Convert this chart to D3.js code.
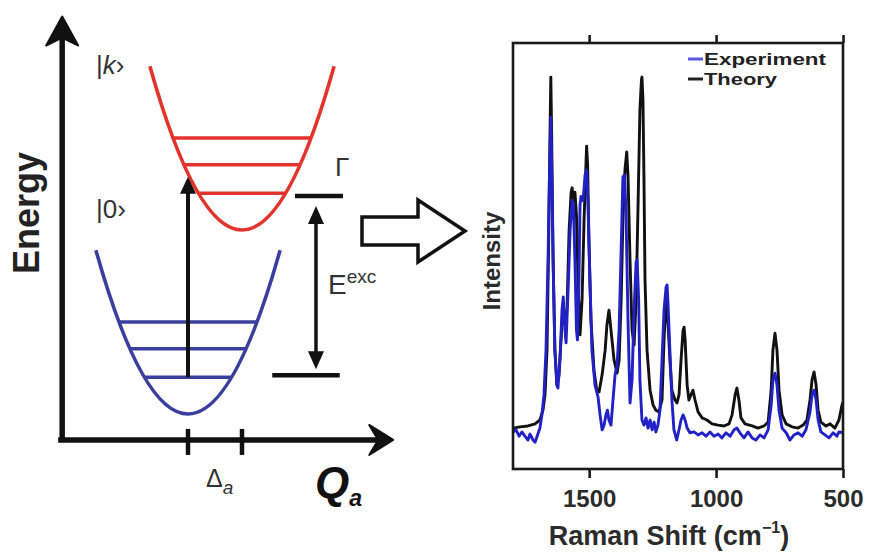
<!DOCTYPE html>
<html>
<head>
<meta charset="utf-8">
<script src="https://cdn.jsdelivr.net/npm/d3@7"></script>
<style>
  body { margin: 0; background: #fff; }
  svg { display: block; }
  text { font-family: "Liberation Sans", Arial, Helvetica, sans-serif; }
</style>
</head>
<body>
<svg id="fig" width="869" height="553"></svg>
<script>
// ---------- Raman spectra: [Raman shift (cm^-1), intensity (a.u.)] ----------
const theory = [
  [1800,9.6],[1772,9.9],[1741,10.1],[1713,10.6],[1694,11.5],[1682,13.8],[1674,17.4],[1666,27.9],
  [1660,51.4],[1654,79.6],[1651,92.0],[1648,79.6],[1642,49.1],[1635,27.9],[1627,19.7],[1619,22.0],
  [1611,30.0],[1603,38.0],[1595,34.0],[1587,38.0],[1579,56.0],[1571,65.0],[1567,66.0],[1562,63.1],
  [1556,65.0],[1550,59.6],[1544,44.4],[1536,31.5],[1528,39.7],[1520,58.5],[1512,72.5],[1510,75.8],
  [1506,71.4],[1501,53.8],[1493,35.0],[1481,23.2],[1469,18.1],[1461,18.1],[1449,22.1],[1437,27.9],
  [1430,33.8],[1422,37.3],[1414,32.6],[1402,25.6],[1390,22.5],[1382,25.6],[1374,39.7],[1367,58.5],
  [1359,70.2],[1352,74.4],[1347,69.0],[1339,49.1],[1331,32.6],[1323,29.1],[1315,39.7],[1307,63.1],
  [1300,84.3],[1294,91.3],[1292,92.0],[1288,86.6],[1284,67.8],[1280,44.4],[1272,27.9],[1260,18.5],
  [1248,15.0],[1237,13.8],[1225,13.4],[1213,16.2],[1205,30.3],[1197,39.7],[1190,35.0],[1182,25.6],
  [1174,18.5],[1162,16.2],[1154,15.5],[1146,17.4],[1138,25.6],[1130,32.6],[1126,33.3],[1122,30.3],
  [1114,19.7],[1107,16.2],[1099,17.4],[1091,18.5],[1083,16.2],[1071,13.4],[1055,12.0],[1036,11.5],
  [1016,10.6],[992,10.3],[969,10.1],[949,10.6],[937,12.7],[925,17.4],[918,19.0],[910,16.2],
  [902,12.0],[886,10.6],[858,10.1],[835,9.6],[811,10.1],[795,11.0],[783,18.5],[776,27.9],
  [768,31.9],[760,27.9],[752,18.5],[740,12.7],[724,10.6],[701,9.9],[677,9.6],[657,10.3],
  [642,11.5],[630,16.2],[622,20.9],[614,22.8],[606,19.7],[598,13.8],[587,11.0],[567,10.1],
  [551,10.6],[532,9.6],[516,11.5],[504,15.0],[500,15.7]
];

const experiment = [
  [1800,8.7],[1788,9.2],[1776,7.7],[1765,8.7],[1753,7.7],[1741,6.8],[1733,8.2],[1721,6.8],
  [1713,6.3],[1705,7.7],[1694,9.6],[1686,12.7],[1678,17.4],[1670,27.9],[1662,49.1],[1656,70.2],
  [1651,82.6],[1648,72.5],[1642,49.1],[1635,27.9],[1627,19.7],[1623,19.0],[1615,25.6],[1607,37.3],
  [1602,40.4],[1595,32.6],[1591,29.6],[1583,42.0],[1575,56.1],[1567,63.1],[1562,62.0],[1556,49.1],
  [1550,32.6],[1546,30.3],[1540,45.0],[1536,62.0],[1532,64.0],[1524,63.0],[1516,69.0],[1510,70.2],
  [1505,63.1],[1497,44.4],[1489,27.9],[1477,19.7],[1465,16.9],[1457,12.7],[1449,9.2],[1441,10.3],
  [1434,12.7],[1428,13.8],[1422,11.5],[1414,10.3],[1406,16.2],[1398,22.1],[1390,24.4],[1382,32.6],
  [1374,51.4],[1367,68.5],[1361,69.0],[1355,60.8],[1347,35.0],[1339,15.5],[1331,20.9],[1323,37.3],
  [1315,48.6],[1311,49.1],[1305,39.7],[1300,20.9],[1292,11.5],[1284,10.3],[1276,12.0],[1268,9.6],
  [1260,11.5],[1252,9.2],[1244,11.0],[1237,8.7],[1229,10.3],[1221,13.8],[1213,25.6],[1205,37.3],
  [1197,42.7],[1193,43.2],[1190,39.7],[1182,27.9],[1174,16.2],[1166,9.2],[1155,6.8],[1146,9.2],
  [1138,11.5],[1130,12.7],[1122,11.5],[1114,9.6],[1103,8.5],[1087,8.7],[1071,8.0],[1055,8.5],
  [1040,7.7],[1024,8.7],[1008,7.7],[992,8.2],[977,7.3],[961,8.5],[945,7.7],[929,9.2],
  [918,9.6],[906,8.5],[890,7.3],[874,8.7],[858,7.3],[843,6.8],[827,8.0],[811,7.3],
  [795,9.2],[783,15.0],[776,20.9],[768,22.5],[760,19.7],[752,13.8],[740,9.6],[724,8.5],
  [709,6.8],[693,8.0],[677,8.5],[661,7.7],[646,9.2],[630,13.4],[622,17.4],[614,18.5],
  [606,16.2],[598,11.5],[587,8.7],[571,8.0],[555,7.3],[539,8.5],[524,7.7],[516,8.7],[500,8.5]
];

const shiftDomain = [1800, 500];
const intensityDomain = [0, 100];
const shiftTicks = [1500, 1000, 500];
const legendLabels = ["Experiment", "Theory"];
const legendWidths = [122, 73];
const seriesColors = ["#2121c6", "#111111"];
const legendDashColors = ["#5a5ae0", "#222222"];

// ---------- Displaced harmonic potentials (Q in units of Δa, energy in arbitrary units) ----------
const wellNames = ["ground", "excited"];
const wellCenters = [0, 1];
const wellMinima = [0, 10];
const wellColors = ["#3a3f9d", "#e2332c"];
const vibLevels = [2.0, 3.55, 5.0];      // vibrational levels above each minimum
const wellHeight = 8.9;                   // energy above minimum where each curve is cut
const curvature = 3.06;                   // E = curvature * (Q - Q0)^2
const qTicks = [0, 1];                    // 0 and Δa
const axisOrigin = [-2.33, -1.41];        // [Q, E] where the axes cross
const axisEnds = [3.8, 21.6];             // Q-axis tip, energy-axis tip
const transition = { q: 0, from: 2.0, to: 12.9 };
const excitation = { q: 2.37, low: 2.1, high: 11.85,
                     lowSpan: [1.56, 2.81], highSpan: [1.98, 2.87] };

const svg = d3.select("#fig");

// ================= Left: potential energy diagram =================
const xQ = d3.scaleLinear().domain([0, 1]).range([188, 242]);
const yE = d3.scaleLinear().domain([0, 10]).range([414, 230]);
const left = svg.append("g");

// wells drawn as quadratic Béziers (exact parabolas)
wellNames.forEach((name, i) => {
  const q0 = wellCenters[i], e0 = wellMinima[i];
  const w = Math.sqrt(wellHeight / curvature);
  const p = d3.path();
  p.moveTo(xQ(q0 - w), yE(e0 + wellHeight));
  p.quadraticCurveTo(xQ(q0), yE(e0 - wellHeight), xQ(q0 + w), yE(e0 + wellHeight));
  left.append("path").attr("d", p.toString())
    .attr("fill", "none").attr("stroke", wellColors[i]).attr("stroke-width", 3.6);
  left.selectAll(null).data(vibLevels).enter().append("line")
    .attr("x1", d => xQ(q0 - Math.sqrt(d / curvature)))
    .attr("x2", d => xQ(q0 + Math.sqrt(d / curvature)))
    .attr("y1", d => yE(e0 + d)).attr("y2", d => yE(e0 + d))
    .attr("stroke", wellColors[i]).attr("stroke-width", 3.4);
});

// axes with arrowheads
const ox = xQ(axisOrigin[0]), oy = yE(axisOrigin[1]);
const axTop = yE(axisEnds[1]), axRight = xQ(axisEnds[0]);
left.append("line").attr("x1", ox).attr("x2", ox).attr("y1", oy + 2).attr("y2", axTop + 14)
  .attr("stroke", "#111").attr("stroke-width", 5.5);
left.append("line").attr("x1", ox - 4).attr("x2", axRight - 12).attr("y1", oy).attr("y2", oy)
  .attr("stroke", "#111").attr("stroke-width", 5.5);
left.append("path")
  .attr("d", `M${ox},${axTop} L${ox + 16},${axTop + 29} L${ox},${axTop + 21} L${ox - 16},${axTop + 29} Z`)
  .attr("fill", "#111").attr("stroke", "#111").attr("stroke-width", 2).attr("stroke-linejoin", "round");
left.append("path")
  .attr("d", `M${axRight},${oy} L${axRight - 24},${oy - 15} L${axRight - 15},${oy} L${axRight - 24},${oy + 15} Z`)
  .attr("fill", "#111").attr("stroke", "#111").attr("stroke-width", 2).attr("stroke-linejoin", "round");

// ticks at 0 and Δa
left.selectAll(null).data(qTicks).enter().append("line")
  .attr("x1", d => xQ(d)).attr("x2", d => xQ(d))
  .attr("y1", oy - 11).attr("y2", oy + 15)
  .attr("stroke", "#111").attr("stroke-width", 4.5);

// vertical excitation arrow
const tx = xQ(transition.q), ty0 = yE(transition.from), ty1 = yE(transition.to);
left.append("line").attr("x1", tx).attr("x2", tx).attr("y1", ty0).attr("y2", ty1 + 10)
  .attr("stroke", "#111").attr("stroke-width", 4);
left.append("path")
  .attr("d", `M${tx},${ty1} L${tx + 8},${ty1 + 17} L${tx - 8},${ty1 + 17} Z`)
  .attr("fill", "#111");

// E_exc double arrow and level markers
const ex = xQ(excitation.q), eyLow = yE(excitation.low), eyHigh = yE(excitation.high);
left.append("line").attr("x1", xQ(excitation.lowSpan[0])).attr("x2", xQ(excitation.lowSpan[1]))
  .attr("y1", eyLow).attr("y2", eyLow).attr("stroke", "#111").attr("stroke-width", 4.5);
left.append("line").attr("x1", xQ(excitation.highSpan[0])).attr("x2", xQ(excitation.highSpan[1]))
  .attr("y1", eyHigh).attr("y2", eyHigh).attr("stroke", "#111").attr("stroke-width", 4.5);
left.append("line").attr("x1", ex).attr("x2", ex).attr("y1", eyHigh + 20).attr("y2", eyLow - 20)
  .attr("stroke", "#111").attr("stroke-width", 3.5);
left.append("path")
  .attr("d", `M${ex},${eyHigh + 10} L${ex + 8},${eyHigh + 28} L${ex - 8},${eyHigh + 28} Z`)
  .attr("fill", "#111");
left.append("path")
  .attr("d", `M${ex},${eyLow - 6} L${ex + 8},${eyLow - 24} L${ex - 8},${eyLow - 24} Z`)
  .attr("fill", "#111");

// labels
left.append("text").attr("x", 96).attr("y", 74).attr("font-size", 26).attr("fill", "#333")
  .html('|<tspan font-style="italic">k</tspan>›');
left.append("text").attr("x", 96).attr("y", 218).attr("font-size", 26).attr("fill", "#333")
  .text("|0›");
left.append("text").attr("x", 335).attr("y", 176).attr("font-size", 26).attr("fill", "#333")
  .text("Γ");
left.append("text").attr("x", 328).attr("y", 294).attr("font-size", 28).attr("fill", "#333")
  .html('E<tspan font-size="19" dy="-11">exc</tspan>');
left.append("text").attr("x", 206).attr("y", 487).attr("font-size", 25).attr("fill", "#333")
  .html('Δ<tspan font-size="19" font-style="italic" dy="7">a</tspan>');
left.append("text").attr("x", 315).attr("y", 498).attr("font-size", 44)
  .attr("font-weight", "bold").attr("font-style", "italic").attr("fill", "#111")
  .html('Q<tspan font-size="23" dy="8">a</tspan>');
left.append("text").attr("transform", "translate(39,213) rotate(-90)")
  .attr("text-anchor", "middle").attr("font-size", 36).attr("font-weight", "bold")
  .attr("fill", "#222").text("Energy");

// hollow block arrow pointing to the spectrum
left.append("path")
  .attr("d", "M362,217 L418,217 L418,200 L465,231 L418,262 L418,245 L362,245 Z")
  .attr("fill", "#fff").attr("stroke", "#111").attr("stroke-width", 3.5)
  .attr("stroke-linejoin", "miter");

// ================= Right: Raman spectra =================
const plot = { x0: 513, x1: 843, y0: 43, y1: 469 };
const x = d3.scaleLinear().domain(shiftDomain).range([plot.x0, plot.x1]);
const y = d3.scaleLinear().domain(intensityDomain).range([plot.y1, plot.y0]);
const right = svg.append("g");

const line = d3.line().x(d => x(d[0])).y(d => y(d[1]));
[theory, experiment].forEach((series, i) => {
  right.append("path").datum(series)
    .attr("d", line)
    .attr("fill", "none")
    .attr("stroke", i === 0 ? seriesColors[1] : seriesColors[0])
    .attr("stroke-width", 2.9)
    .attr("stroke-linejoin", "round");
});

// frame
right.append("rect").attr("x", plot.x0).attr("y", plot.y0)
  .attr("width", plot.x1 - plot.x0).attr("height", plot.y1 - plot.y0)
  .attr("fill", "none").attr("stroke", "#1a1a1a").attr("stroke-width", 2.6);

// bottom axis with outward ticks and labels
const bottomAxis = right.append("g").attr("transform", `translate(0,${plot.y1})`)
  .call(d3.axisBottom(x).tickValues(shiftTicks).tickSize(9).tickPadding(12)
    .tickSizeOuter(0).tickFormat(d3.format("d")));
bottomAxis.select(".domain").remove();
bottomAxis.selectAll(".tick line").attr("stroke", "#1a1a1a").attr("stroke-width", 2.6);
bottomAxis.selectAll(".tick text")
  .attr("font-family", '"Liberation Sans", Arial, sans-serif')
  .attr("font-size", 24).attr("font-weight", "bold").attr("fill", "#2b2b2b");

// top axis: ticks only
const topAxis = right.append("g").attr("transform", `translate(0,${plot.y0})`)
  .call(d3.axisTop(x).tickValues(shiftTicks).tickSize(8).tickFormat(""));
topAxis.select(".domain").remove();
topAxis.selectAll(".tick line").attr("stroke", "#1a1a1a").attr("stroke-width", 2.6);

// axis titles
right.append("text").attr("x", 669).attr("y", 545).attr("text-anchor", "middle")
  .attr("font-size", 27).attr("font-weight", "bold").attr("fill", "#2b2b2b")
  .html('Raman Shift (cm<tspan font-size="16" dy="-12">−1</tspan><tspan dy="12">)</tspan>');
right.append("text").attr("transform", "translate(500,261) rotate(-90)")
  .attr("text-anchor", "middle").attr("font-size", 24).attr("font-weight", "bold")
  .attr("fill", "#2b2b2b").text("Intensity");

// legend
const legend = right.append("g");
legendLabels.forEach((label, i) => {
  const ly = 59 + i * 20;
  legend.append("line").attr("x1", 688).attr("x2", 703).attr("y1", ly).attr("y2", ly)
    .attr("stroke", legendDashColors[i]).attr("stroke-width", 3);
  legend.append("text").attr("x", 704).attr("y", ly + 6)
    .attr("font-size", 17).attr("font-weight", "bold").attr("fill", "#222")
    .attr("textLength", legendWidths[i]).attr("lengthAdjust", "spacingAndGlyphs")
    .text(label);
});
</script>
</body>
</html>
